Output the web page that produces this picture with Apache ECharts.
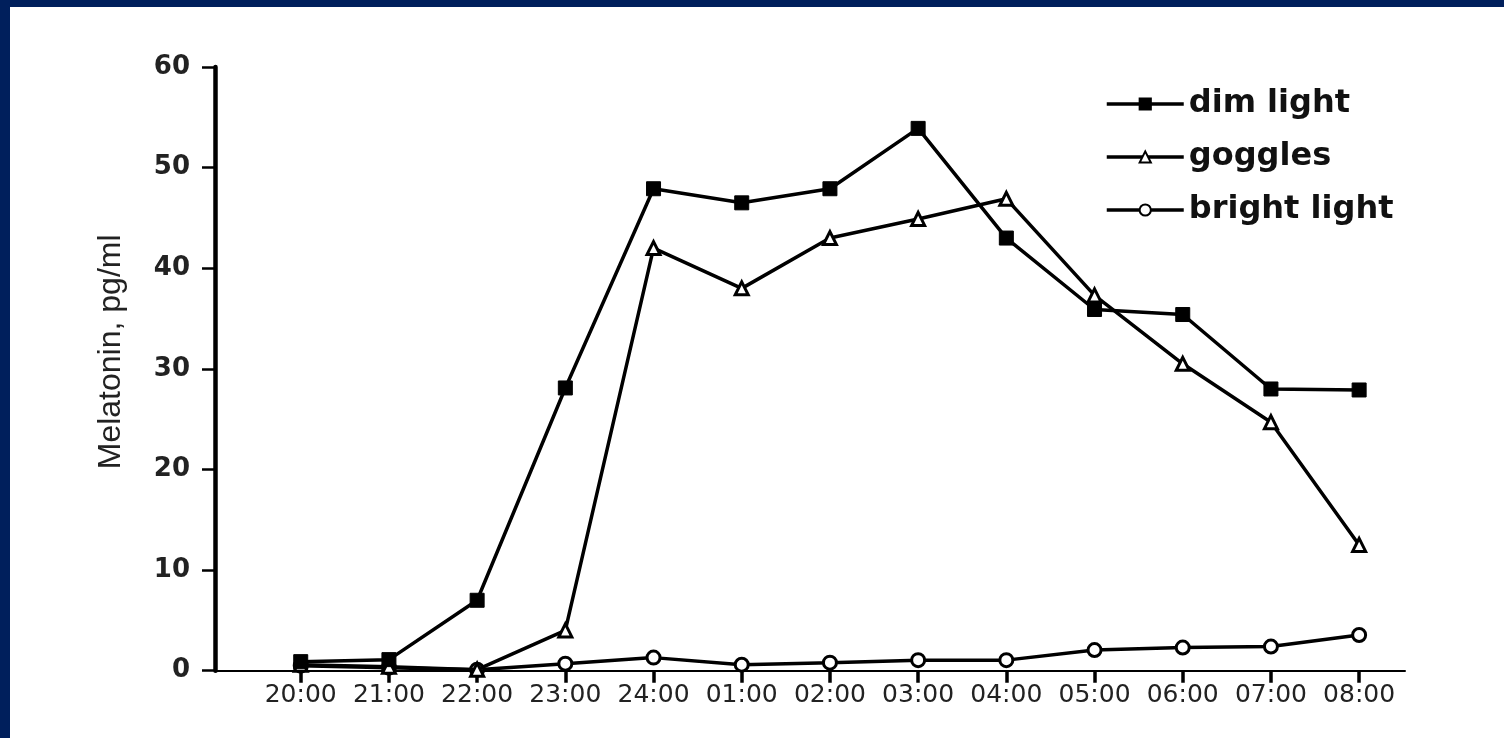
<!DOCTYPE html>
<html><head><meta charset="utf-8">
<script src="https://cdn.jsdelivr.net/npm/echarts@6/dist/echarts.min.js"></script>
<style>
html,body{margin:0;padding:0;background:#001f5c;}
#frame{position:relative;width:1504px;height:738px;background:#001f5c;overflow:hidden;}
#chart{position:absolute;left:10px;top:7px;width:1494px;height:731px;background:#ffffff;}
</style></head><body>
<div id="frame"><div id="chart"></div></div>
<script>
const categories = ['20:00','21:00','22:00','23:00','24:00','01:00','02:00','03:00','04:00','05:00','06:00','07:00','08:00'];
const dimLight    = [0.9, 1.1, 7.0, 28.1, 47.9, 46.5, 47.9, 53.9, 43.0, 35.9, 35.4, 28.0, 27.9];
const goggles     = [0.6, 0.4, 0.1, 4.0, 42.0, 38.0, 43.0, 44.9, 46.9, 37.3, 30.5, 24.7, 12.5];
const brightLight = [0.5, 0.3, 0.1, 0.7, 1.3, 0.6, 0.8, 1.05, 1.05, 2.05, 2.3, 2.4, 3.55];
const yTicks = [0, 10, 20, 30, 40, 50, 60];
const seriesNames = ['dim light', 'goggles', 'bright light'];

const idx = categories.map((c, i) => i);
const toPts = arr => arr.map((v, i) => [i, v]);

const chart = echarts.init(document.getElementById('chart'));
const lineCommon = {
  type: 'line',
  color: '#000',
  lineStyle: { color: '#000', width: 3.5 },
  symbolSize: 12,
  animation: false
};
chart.setOption({
  backgroundColor: '#ffffff',
  animation: false,
  grid: { left: 205, right: 99, top: 60, bottom: 67.3, containLabel: false },
  legend: {
    orient: 'vertical',
    left: 1090,
    top: 76,
    itemWidth: 77,
    itemHeight: 14,
    itemGap: 21,
    data: seriesNames,
    lineStyle: { width: 3.5, color: '#000' },
    textStyle: { fontFamily: 'DejaVu Sans', fontWeight: 'bold', fontSize: 32, color: '#111' }
  },
  xAxis: {
    type: 'value',
    min: -0.972,
    max: 12.52,
    splitLine: { show: false },
    axisLine: { show: true, onZero: false, lineStyle: { color: '#000', width: 2 } },
    axisTick: { show: true, customValues: idx, length: 12, lineStyle: { color: '#000', width: 3.5 } },
    axisLabel: {
      customValues: idx,
      formatter: v => { const i = Math.round(v); return (Math.abs(v - i) < 1e-6 && categories[i]) ? categories[i] : ''; },
      margin: 12,
      fontFamily: 'DejaVu Sans', fontSize: 25, color: '#222'
    }
  },
  yAxis: {
    type: 'value',
    min: yTicks[0],
    max: yTicks[yTicks.length - 1],
    interval: 10,
    name: 'Melatonin, pg/ml',
    nameLocation: 'middle',
    nameGap: 88,
    nameTextStyle: { fontFamily: 'Liberation Sans', fontSize: 32, color: '#222', padding: [0, 0, 0, 34] },
    splitLine: { show: false },
    axisLine: { show: true, onZero: false, lineStyle: { color: '#000', width: 4.5 } },
    axisTick: { show: true, length: 13, lineStyle: { color: '#000', width: 2.5 } },
    axisLabel: { margin: 25, fontFamily: 'DejaVu Sans', fontWeight: 'bold', fontSize: 26, color: '#222' }
  },
  series: [
    Object.assign({}, lineCommon, {
      name: seriesNames[0], data: toPts(dimLight), symbol: 'rect', symbolSize: 14,
      itemStyle: { color: '#000', borderColor: '#000', borderWidth: 1 }, z: 4
    }),
    Object.assign({}, lineCommon, {
      name: seriesNames[1], data: toPts(goggles), symbol: 'triangle', symbolSize: 13,
      itemStyle: { color: '#fff', borderColor: '#000', borderWidth: 3 }, z: 3
    }),
    Object.assign({}, lineCommon, {
      name: seriesNames[2], data: toPts(brightLight), symbol: 'circle', symbolSize: 13,
      itemStyle: { color: '#fff', borderColor: '#000', borderWidth: 3 }, z: 2
    })
  ]
});
</script>
</body></html>
